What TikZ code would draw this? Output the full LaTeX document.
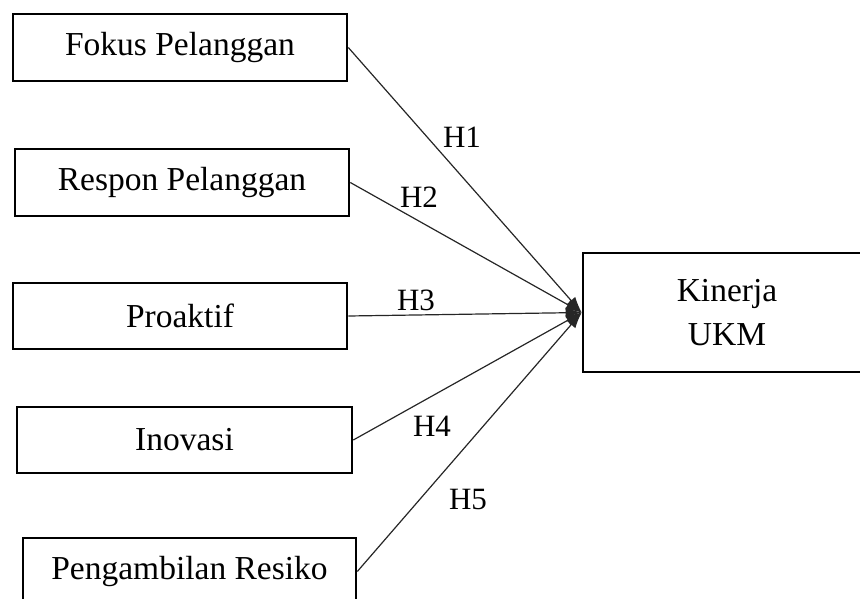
\documentclass[tikz,border=0pt]{standalone}
\usepackage{fontspec}
\setmainfont{Liberation Serif}
\usetikzlibrary{arrows.meta}
\begin{document}
\begin{tikzpicture}[x=1pt,y=-1pt,
  varbox/.style={draw=black,line width=2.6pt,fill=white,inner sep=0pt,minimum height=67pt,
    font=\fontsize{33.5}{44}\selectfont},
  conn/.style={draw=black!85,line width=1.2pt,-{Latex[length=16pt,width=11pt]}},
  hlabel/.style={font=\fontsize{31}{36}\selectfont,inner sep=0pt}]
\useasboundingbox (0,0) rectangle (860,598);
\clip (0,0) rectangle (860,598);
\node[varbox,minimum width=334pt] (f) at (180,47.5) {Fokus Pelanggan};
\node[varbox,minimum width=334pt] (r) at (182,182.5) {Respon Pelanggan};
\node[varbox,minimum width=334pt,minimum height=66pt] (p) at (180,316) {Proaktif};
\node[varbox,minimum width=335pt,minimum height=66pt] (i) at (184.5,440) {Inovasi};
\node[varbox,minimum width=333pt] (pr) at (189.5,571.5) {Pengambilan Resiko};
\node[varbox,minimum width=288pt,minimum height=119pt,align=center] (k) at (727,312.5) {Kinerja\\UKM};
\draw[conn] (f.east) -- (k.west);
\draw[conn] (r.east) -- (k.west);
\draw[conn] (p.east) -- (k.west);
\draw[conn] (i.east) -- (k.west);
\draw[conn] (pr.east) -- (k.west);
\node[hlabel] (h1) at (462,137) {H1};
\node[hlabel] (h2) at (419,197) {H2};
\node[hlabel] (h3) at (416,300) {H3};
\node[hlabel] (h4) at (432,426) {H4};
\node[hlabel] (h5) at (468,499) {H5};
\end{tikzpicture}
\end{document}
